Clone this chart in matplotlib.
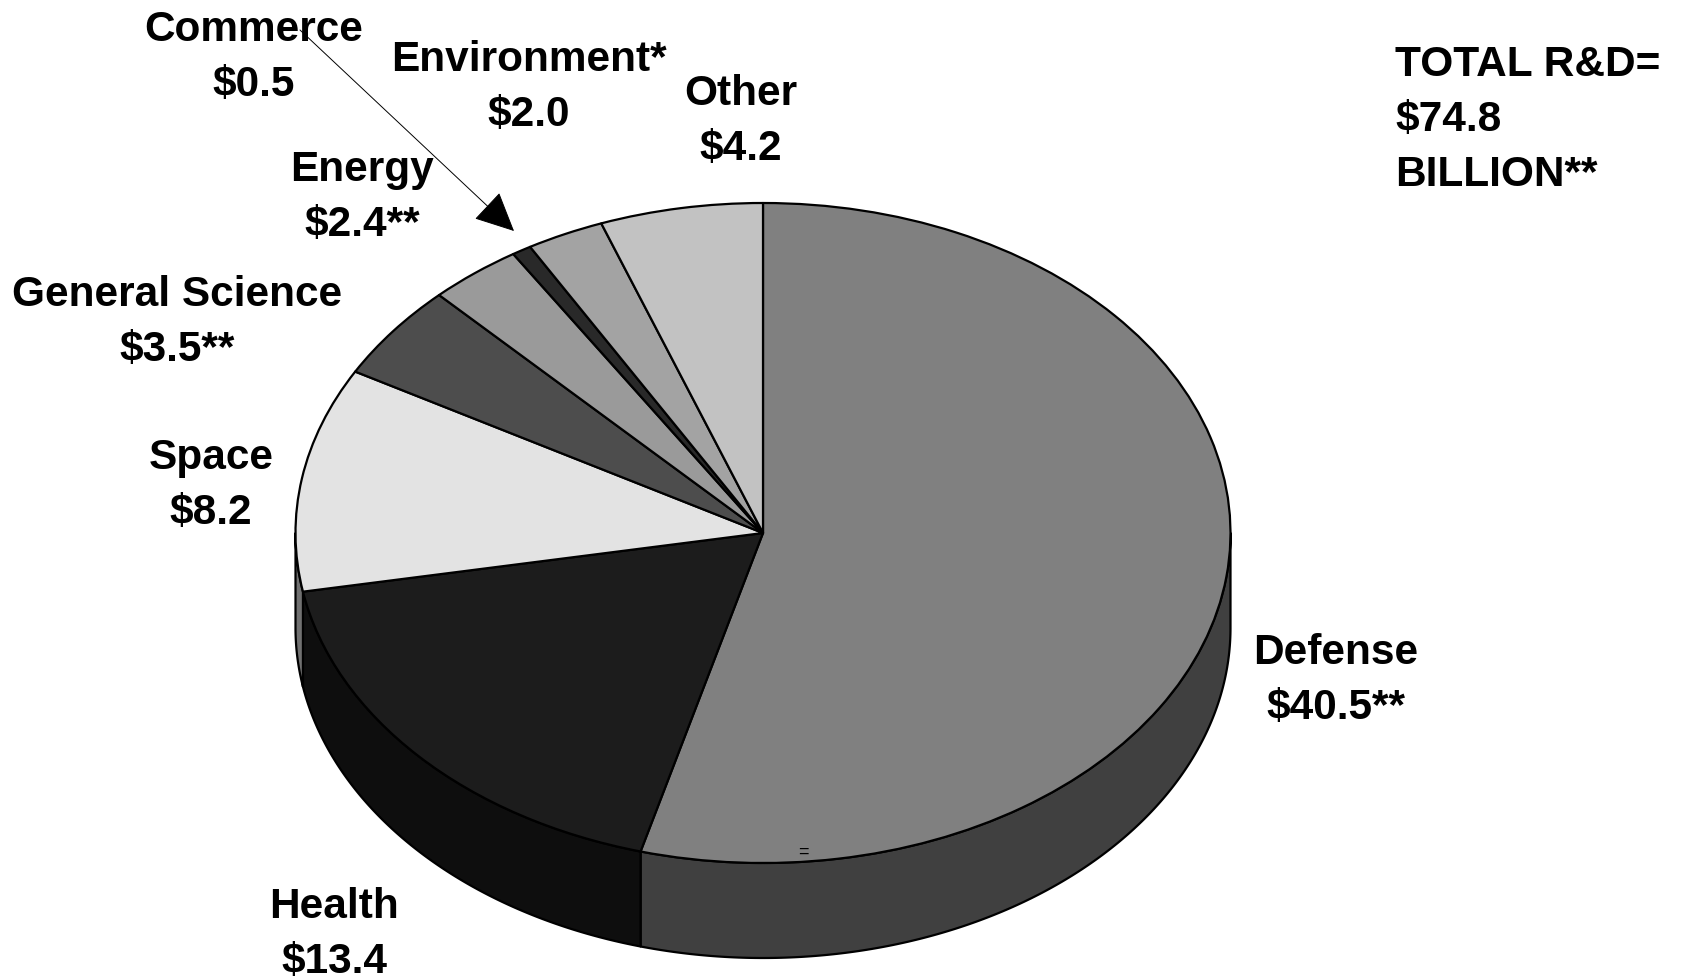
import numpy as np
import matplotlib
matplotlib.use("Agg")
import matplotlib.pyplot as plt

plt.rcParams['font.family'] = ['Liberation Sans', 'DejaVu Sans']

# Data
categories = ["Defense", "Health", "Space", "General Science", "Energy", "Commerce", "Environment*", "Other"]
values = [40.5, 13.4, 8.2, 3.5, 2.4, 0.5, 2.0, 4.2]
value_labels = ["$40.5**", "$13.4", "$8.2", "$3.5**", "$2.4**", "$0.5", "$2.0", "$4.2"]
top_colors = ["#808080", "#1c1c1c", "#e3e3e3", "#4d4d4d", "#9a9a9a", "#292929", "#a3a3a3", "#c2c2c2"]
wall_colors = ["#404040", "#0e0e0e", "#717171", "#262626", "#4d4d4d", "#151515", "#525252", "#616161"]
total_lines = ["TOTAL R&D=", "$74.8", "BILLION**"]

W, H = 1684, 980
CX, CY, RX, RY, DEPTH = 763.0, 533.0, 467.5, 330.0, 95.0

# label anchor: centre x, first baseline y in pixels
label_pos = {
    "Defense": (1336, 664), "Health": (334, 918), "Space": (211, 469),
    "General Science": (177, 306), "Energy": (362, 181), "Commerce": (254, 41),
    "Environment*": (529, 71), "Other": (741, 105),
}
LINE_GAP = 55
FS = 30.5
EDGE = 1.6

fig = plt.figure(figsize=(W / 100, H / 100), dpi=100, facecolor="white")

# Pie axes: one data unit equals one radius on each axis, so the pie is an ellipse
ax = fig.add_axes([0, 0, 1, 1], zorder=1)
ax.patch.set_alpha(0)
d = DEPTH / RY

total = sum(values)
fractions = np.array(values) / total
bounds = np.concatenate([[0], np.cumsum(fractions)]) * 360.0  # clockwise from 12 o'clock

# Side walls: only the front half of the rim (90 to 270 degrees clockwise from top)
for i in range(len(values)):
    a0, a1 = max(bounds[i], 90.0), min(bounds[i + 1], 270.0)
    if a1 <= a0:
        continue
    t = np.radians(np.linspace(a0, a1, 200))
    xs = np.sin(t)
    ys = np.cos(t)
    ax.fill(np.r_[xs, xs[::-1]], np.r_[ys, ys[::-1] - d],
            facecolor=wall_colors[i], edgecolor="black", linewidth=EDGE, joinstyle="round", zorder=1)

wedges, _ = ax.pie(values, colors=top_colors, startangle=90, counterclock=False, radius=1.0,
                   wedgeprops=dict(edgecolor="black", linewidth=EDGE, joinstyle="round"))
for w in wedges:
    w.set_zorder(2)

ax.set_aspect("auto")
ax.set_xlim(-CX / RX, (W - CX) / RX)
ax.set_ylim((CY - H) / RY, CY / RY)
ax.axis("off")

# Text layer in pixel coordinates
tx = fig.add_axes([0, 0, 1, 1], zorder=2)
tx.patch.set_alpha(0)
tx.set_xlim(0, W)
tx.set_ylim(H, 0)
tx.axis("off")

for name, val in zip(categories, value_labels):
    x, y = label_pos[name]
    tx.text(x, y, name, ha="center", va="baseline", fontsize=FS, fontweight="bold", color="black")
    tx.text(x, y + LINE_GAP, val.replace("$", r"\$"), ha="center", va="baseline", fontsize=FS,
            fontweight="bold", color="black")

for i, line in enumerate(total_lines):
    tx.text(1395, 76 + i * LINE_GAP, line.replace("$", r"\$"), ha="left", va="baseline",
            fontsize=FS, fontweight="bold", color="black")

tx.text(803, 852, "=", ha="center", va="center", fontsize=13, color="black")

# Commerce leader arrow
tx.annotate("", xy=(514, 231), xytext=(300, 30),
            arrowprops=dict(arrowstyle="-|>,head_length=1.05,head_width=0.5", mutation_scale=24,
                            lw=0.7, color="black", fc="black", shrinkA=0, shrinkB=0))

fig.savefig("out.png", dpi=100, facecolor="white")
